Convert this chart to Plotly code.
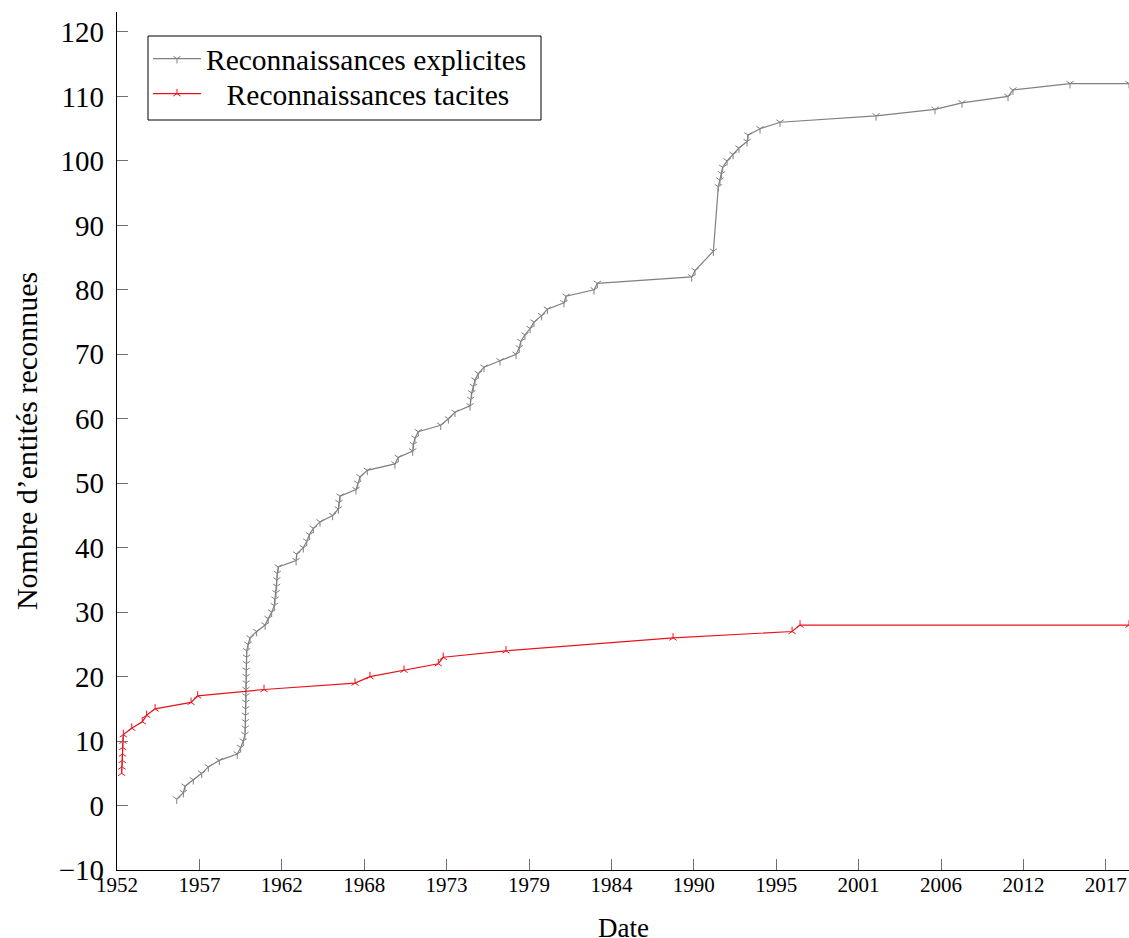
import plotly.graph_objects as go

# Explicit recognitions: (decimal year, cumulative count)
expl_years = [1955.97, 1956.41, 1956.52, 1957.07, 1957.63, 1958.07, 1958.80, 1959.99, 1960.22, 1960.39,
              1960.50, 1960.52, 1960.53, 1960.54, 1960.55, 1960.56, 1960.57, 1960.57, 1960.58, 1960.59,
              1960.59, 1960.60, 1960.61, 1960.62, 1960.71, 1960.84, 1961.28, 1961.84, 1962.05, 1962.28,
              1962.45, 1962.50, 1962.57, 1962.61, 1962.62, 1962.65, 1962.72, 1963.90, 1963.94, 1964.38,
              1964.61, 1964.78, 1965.05, 1965.49, 1966.33, 1966.71, 1966.75, 1966.82, 1967.88, 1968.00,
              1968.15, 1968.63, 1970.47, 1970.69, 1971.65, 1971.69, 1971.80, 1972.02, 1973.51, 1974.02,
              1974.46, 1975.46, 1975.50, 1975.57, 1975.68, 1975.79, 1976.01, 1976.39, 1977.45, 1978.52,
              1978.73, 1978.83, 1979.11, 1979.45, 1979.71, 1980.22, 1980.60, 1981.70, 1981.84, 1983.70,
              1983.92, 1990.19, 1990.41, 1991.63, 1991.96, 1992.07, 1992.18, 1992.25, 1992.54, 1992.94,
              1993.33, 1993.87, 1993.93, 1994.73, 1996.06, 2002.44, 2006.36, 2008.15, 2011.21, 2011.54,
              2015.33, 2019.25]
expl_counts = list(range(1, 84)) + [86] + list(range(96, 113)) + [112]

# Tacit recognitions
tacit_years = [1952.31, 1952.33, 1952.35, 1952.37, 1952.38, 1952.40, 1952.42, 1952.98, 1953.68, 1953.97,
               1954.53, 1956.92, 1957.36, 1961.77, 1967.82, 1968.81, 1971.07, 1973.35, 1973.68, 1977.85,
               1988.95, 1996.86, 1997.39, 2019.25]
tacit_counts = list(range(5, 25)) + [26, 27, 28, 28]

tick_labels = ["1952", "1957", "1962", "1968", "1973", "1979", "1984",
               "1990", "1995", "2001", "2006", "2012", "2017"]
tick_start = 1952.0
tick_step_days = 2000
tick_vals = [tick_start + k * tick_step_days / 365.25 for k in range(len(tick_labels))]

y_ticks = list(range(-10, 121, 10))

FONT = "Liberation Serif"
GRAY = "#808080"
RED = "#e8141c"

fig = go.Figure()
fig.add_trace(go.Scatter(
    x=expl_years, y=expl_counts, mode="lines+markers",
    name="Reconnaissances explicites", legend="legend",
    line=dict(color=GRAY, width=1.2),
    marker=dict(symbol="y-down", size=6, line=dict(color=GRAY, width=1)),
))
fig.add_trace(go.Scatter(
    x=tacit_years, y=tacit_counts, mode="lines+markers",
    name="\u00a0\u00a0\u2009Reconnaissances tacites", legend="legend2",
    line=dict(color=RED, width=1.2),
    marker=dict(symbol="y-up", size=6, line=dict(color=RED, width=1)),
))

legend_common = dict(
    xanchor="left", yanchor="top",
    bgcolor="rgba(0,0,0,0)", borderwidth=0,
    font=dict(family=FONT, size=29.5, color="black"),
    itemwidth=48,
)

# legend frame (pixel box 148..541 x 36..120 inside a 1012x858 plot area)
fig.add_shape(
    type="rect", xref="paper", yref="paper",
    x0=(148 - 117) / 1012, x1=(541 - 117) / 1012,
    y0=(870 - 120) / 858, y1=(870 - 36) / 858,
    line=dict(color="black", width=1), fillcolor="white", layer="below",
)

fig.add_annotation(
    text="Date", xref="paper", yref="paper", x=0.5, y=(870 - 928) / 858,
    xanchor="center", yanchor="middle", showarrow=False,
    font=dict(family=FONT, size=27, color="black"),
)

fig.update_layout(
    width=1129, height=938,
    margin=dict(l=117, r=0, t=12, b=68),
    paper_bgcolor="white", plot_bgcolor="white",
    font=dict(family=FONT, color="black"),
    showlegend=True,
    legend=dict(x=0.0306, y=(870 - 33) / 858, **legend_common),
    legend2=dict(x=0.0306, y=(870 - 68) / 858, **legend_common),
    xaxis=dict(
        range=[1952.0, 2019.25], tickmode="array", tickvals=tick_vals, ticktext=tick_labels,
        showgrid=False, zeroline=False, showline=True, linecolor="black", linewidth=1.3,
        ticks="inside", ticklen=11, tickcolor="#707070", tickwidth=1,
        ticklabelstandoff=-4,
        tickfont=dict(family=FONT, size=21, color="black"),
        automargin=False,
    ),
    yaxis=dict(
        range=[-10, 123.1], tickmode="array", tickvals=y_ticks,
        showgrid=False, zeroline=False, showline=True, linecolor="black", linewidth=1.3,
        ticks="inside", ticklen=11, tickcolor="#707070", tickwidth=1,
        ticklabelstandoff=6,
        tickfont=dict(family=FONT, size=29, color="black"),
        title=dict(text="Nombre d’entités reconnues", font=dict(family=FONT, size=30), standoff=12),
        automargin=False,
    ),
)

fig.write_html(
    "out.html",
    config={"displayModeBar": False},
    post_script="document.body.style.margin='0';document.body.style.overflow='hidden';",
)
